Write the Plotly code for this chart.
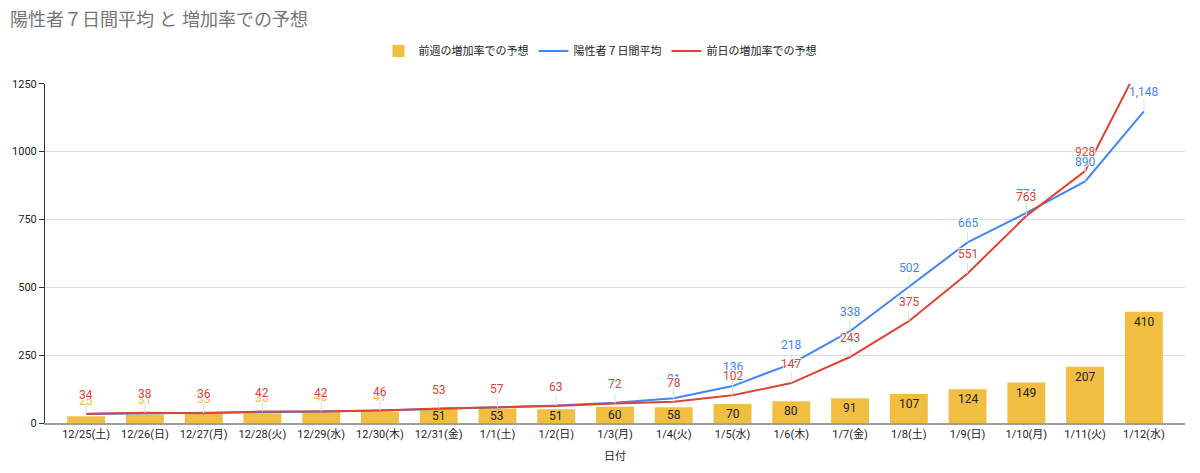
import plotly.graph_objects as go

categories = ["12/25(土)", "12/26(日)", "12/27(月)", "12/28(火)", "12/29(水)", "12/30(木)",
              "12/31(金)", "1/1(土)", "1/2(日)", "1/3(月)", "1/4(火)", "1/5(水)", "1/6(木)",
              "1/7(金)", "1/8(土)", "1/9(日)", "1/10(月)", "1/11(火)", "1/12(水)"]
weekly_pred = [25, 31, 33, 36, 40, 41, 51, 53, 51, 60, 58, 70, 80, 91, 107, 124, 149, 207, 410]
avg7 = [33, 35, 37, 40, 42, 46, 52, 58, 64, 75, 91, 136, 218, 338, 502, 665, 774, 890, 1148]
daily_pred = [34, 38, 36, 42, 42, 46, 53, 57, 63, 72, 78, 102, 147, 243, 375, 551, 763, 928, 1350]
yticks = [0, 250, 500, 750, 1000, 1250]

ORANGE = "#f1be42"
BLUE = "#4285f4"
RED = "#db4437"
HALO = "1px 1px 1px white, -1px -1px 1px white, 1px -1px 1px white, -1px 1px 1px white"
FONT = "Roboto, Arial, 'Noto Sans CJK JP', sans-serif"

fig = go.Figure()
fig.add_trace(go.Bar(x=categories, y=weekly_pred, name="前週の増加率での予想",
                     marker=dict(color=ORANGE, line=dict(width=0)), hoverinfo="skip"))
fig.add_trace(go.Scatter(x=categories, y=avg7, name="陽性者７日間平均", mode="lines",
                         line=dict(color=BLUE, width=2), hoverinfo="skip"))
fig.add_trace(go.Scatter(x=categories, y=daily_pred, name="前日の増加率での予想", mode="lines",
                         line=dict(color=RED, width=2), hoverinfo="skip"))

annotations = []
YMAX = 1250
# bar labels
for i, (c, v) in enumerate(zip(categories, weekly_pred)):
    h_px = v * 343 / YMAX
    if h_px < 12:
        annotations.append(dict(x=c, y=v, text=str(v), showarrow=False, yshift=15,
                                font=dict(color=ORANGE, size=12, family=FONT)))
    else:
        annotations.append(dict(x=c, y=v, text=str(v), showarrow=False,
                                yshift=-min(10, h_px / 2),
                                font=dict(color="#222222", size=12, family=FONT)))
# blue labels (from 1/4 onwards; earlier ones hidden in original)
for i, (c, v) in enumerate(zip(categories, avg7)):
    if i < 10 or v > YMAX:
        continue
    annotations.append(dict(x=c, y=v, text=f"{v:,}", showarrow=True, arrowhead=0, ax=0, ay=-19,
                            arrowcolor="#dddddd", arrowwidth=1, standoff=0,
                            font=dict(color=BLUE, size=12, family=FONT, shadow=HALO)))
# red labels
for i, (c, v) in enumerate(zip(categories, daily_pred)):
    if v > YMAX:
        continue
    annotations.append(dict(x=c, y=v, text=f"{v:,}", showarrow=True, arrowhead=0, ax=0, ay=-19,
                            arrowcolor="#dddddd", arrowwidth=1, standoff=0,
                            font=dict(color=RED, size=12, family=FONT, shadow=HALO)))

fig.update_layout(
    width=1200, height=473,
    margin=dict(l=43, r=15, t=80, b=50),
    paper_bgcolor="white", plot_bgcolor="white",
    font=dict(family=FONT, size=11, color="#222222"),
    title=dict(text="陽性者７日間平均 と 増加率での予想", x=10 / 1200, xref="container", xanchor="left",
               y=1 - 20 / 473, yref="container", yanchor="middle",
               font=dict(size=18, color="#757575", family="Arial, 'Noto Sans CJK JP', sans-serif")),
    legend=dict(orientation="h", x=0.5, xref="container", xanchor="center",
                y=1 - 51 / 473, yref="container", yanchor="middle",
                font=dict(size=11, color="#222222"), itemwidth=30),
    bargap=0.355,
    showlegend=True,
    annotations=annotations,
)
fig.update_xaxes(range=[-0.7, len(categories) - 0.3], showgrid=False, showline=True,
                 linecolor="#9e9e9e", linewidth=2, ticks="",
                 title=dict(text="日付", font=dict(size=11, color="#222222"), standoff=12),
                 tickfont=dict(size=11, color="#222222"))
fig.update_yaxes(range=[0, YMAX], tickvals=yticks, ticktext=[str(t) for t in yticks],
                 showgrid=True, gridcolor="#dddddd", zeroline=False, showline=True,
                 linecolor="#333333", linewidth=1, ticks="outside", ticklen=5, tickcolor="#333333",
                 tickfont=dict(size=11, color="#222222"))

fig.write_html("out.html")
